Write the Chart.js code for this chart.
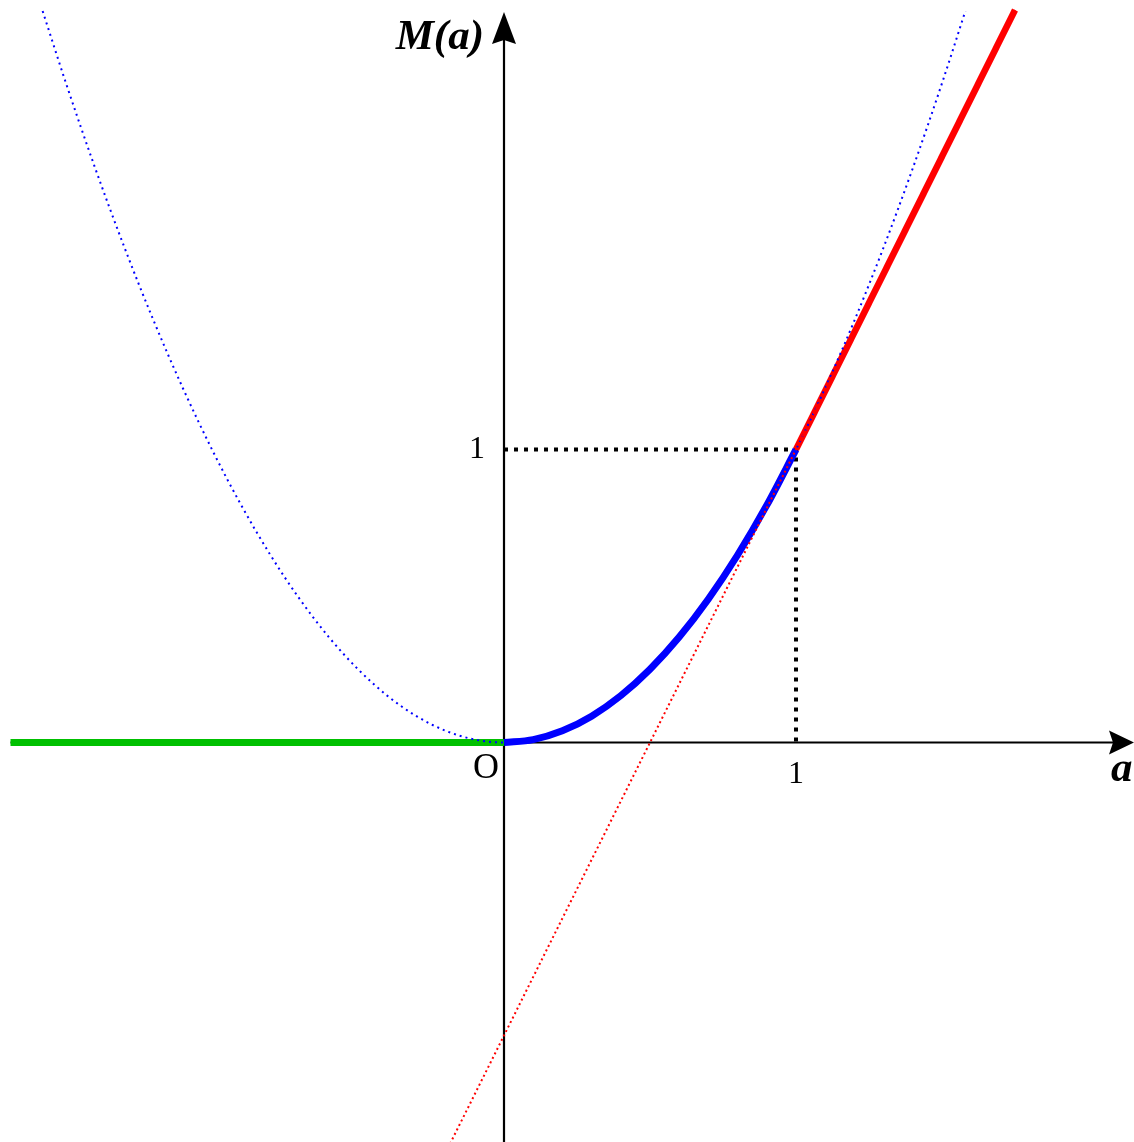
<!DOCTYPE html>
<html>
<head>
<meta charset="utf-8">
<script src="https://cdn.jsdelivr.net/npm/chart.js@4"></script>
<style>
  html, body { margin: 0; padding: 0; background: #ffffff; }
  canvas { display: block; }
</style>
</head>
<body>
<canvas id="chart" width="1134" height="1142"></canvas>
<script>
// M(a): 0 for a < 0, a^2 on [0, 1], 2a - 1 for a >= 1
const zeroA = [-1.69, 0];
const zeroM = [0, 0];
const squareA = [0, 0.1, 0.2, 0.3, 0.4, 0.5, 0.6, 0.7, 0.8, 0.9, 1];
const squareM = [0, 0.01, 0.04, 0.09, 0.16, 0.25, 0.36, 0.49, 0.64, 0.81, 1];
const lineA = [1, 1.75];
const lineM = [1, 2.5];

// the whole parabola a^2 and its tangent 2a - 1 at a = 1, drawn dotted
const parabolaA = [-1.58, -1.5, -1.4, -1.3, -1.2, -1.1, -1.0, -0.9, -0.8, -0.7, -0.6, -0.5, -0.4, -0.3, -0.2, -0.1,
  0, 0.1, 0.2, 0.3, 0.4, 0.5, 0.6, 0.7, 0.8, 0.9, 1.0, 1.1, 1.2, 1.3, 1.4, 1.5, 1.58];
const parabolaM = [2.4964, 2.25, 1.96, 1.69, 1.44, 1.21, 1.0, 0.81, 0.64, 0.49, 0.36, 0.25, 0.16, 0.09, 0.04, 0.01,
  0, 0.01, 0.04, 0.09, 0.16, 0.25, 0.36, 0.49, 0.64, 0.81, 1.0, 1.21, 1.44, 1.69, 1.96, 2.25, 2.4964];
const tangentA = [-0.2, 1.75];
const tangentM = [-1.4, 2.5];

// guide from (0,1) to (1,1) down to (1,0)
const guideA = [0, 1, 1];
const guideM = [1, 1, 0];

// tick labels
const xTickValues = [1];
const xTickLabels = ['1'];
const yTickValues = [1];
const yTickLabels = ['1'];

const pts = (xs, ys) => xs.map((x, i) => ({ x: x, y: ys[i] }));

const SERIF = '"Liberation Serif", "Times New Roman", serif';

// axes with arrowheads, drawn beneath the curves
const axesPlugin = {
  id: 'axes',
  beforeDatasetsDraw(chart) {
    const { ctx, scales: { x, y } } = chart;
    const x0 = x.getPixelForValue(0);
    const y0 = y.getPixelForValue(0);
    const left = x.getPixelForValue(-1.69);
    const right = x.getPixelForValue(x.max);
    const top = y.getPixelForValue(2.5) + 2;
    const bottom = y.getPixelForValue(y.min);
    ctx.save();
    ctx.strokeStyle = '#000';
    ctx.fillStyle = '#000';
    ctx.lineWidth = 2.2;
    ctx.beginPath();
    ctx.moveTo(left, y0);
    ctx.lineTo(right - 20, y0);
    ctx.moveTo(x0, bottom);
    ctx.lineTo(x0, top + 20);
    ctx.stroke();
    // arrowhead pointing right
    ctx.beginPath();
    ctx.moveTo(right, y0);
    ctx.lineTo(right - 25, y0 - 12);
    ctx.lineTo(right - 21, y0);
    ctx.lineTo(right - 25, y0 + 12);
    ctx.closePath();
    ctx.fill();
    // arrowhead pointing up
    ctx.beginPath();
    ctx.moveTo(x0, top);
    ctx.lineTo(x0 - 12, top + 32);
    ctx.lineTo(x0, top + 28);
    ctx.lineTo(x0 + 12, top + 32);
    ctx.closePath();
    ctx.fill();
    ctx.restore();
  },
  afterDatasetsDraw(chart) {
    const { ctx, scales: { x, y } } = chart;
    const x0 = x.getPixelForValue(0);
    const y0 = y.getPixelForValue(0);
    ctx.save();
    ctx.fillStyle = '#000';
    ctx.textBaseline = 'alphabetic';

    ctx.font = '32px ' + SERIF;
    ctx.textAlign = 'center';
    xTickValues.forEach((v, i) => {
      ctx.fillText(xTickLabels[i], x.getPixelForValue(v), y0 + 40);
    });
    ctx.textAlign = 'right';
    yTickValues.forEach((v, i) => {
      ctx.fillText(yTickLabels[i], x0 - 19, y.getPixelForValue(v) + 8);
    });

    ctx.font = '36px ' + SERIF;
    ctx.textAlign = 'right';
    ctx.fillText('O', x0 - 5, y0 + 35);

    ctx.font = 'italic bold 43px ' + SERIF;
    ctx.textAlign = 'right';
    ctx.fillText('M(a)', x0 - 20, 49);
    ctx.textAlign = 'left';
    ctx.fillText('a', 1111, y0 + 38);
    ctx.restore();
  }
};

function drawChart() {
  new Chart(document.getElementById('chart'), {
    type: 'scatter',
    data: {
      datasets: [
        {
          label: 'tangent 2a-1',
          data: pts(tangentA, tangentM),
          showLine: true,
          borderColor: '#ff0000',
          borderWidth: 2,
          borderDash: [2, 3],
          pointRadius: 0,
          tension: 0
        },
        {
          label: 'parabola a^2',
          data: pts(parabolaA, parabolaM),
          showLine: true,
          borderColor: '#0000ff',
          borderWidth: 2,
          borderDash: [2, 4],
          pointRadius: 0,
          cubicInterpolationMode: 'monotone'
        },
        {
          label: 'M(a) = a^2',
          data: pts(squareA, squareM),
          showLine: true,
          borderColor: '#0000ff',
          borderWidth: 7,
          pointRadius: 0,
          cubicInterpolationMode: 'monotone'
        },
        {
          label: 'M(a) = 2a-1',
          data: pts(lineA, lineM),
          showLine: true,
          borderColor: '#ff0000',
          borderWidth: 6.5,
          pointRadius: 0,
          tension: 0
        },
        {
          label: 'M(a) = 0',
          data: pts(zeroA, zeroM),
          showLine: true,
          borderColor: '#00c000',
          borderWidth: 7,
          pointRadius: 0,
          tension: 0
        },
        {
          label: 'guide',
          data: pts(guideA, guideM),
          showLine: true,
          borderColor: '#000000',
          borderWidth: 4,
          borderDash: [4, 6],
          borderJoinStyle: 'miter',
          pointRadius: 0,
          tension: 0
        }
      ]
    },
    options: {
      responsive: false,
      animation: false,
      events: [],
      layout: { padding: 0 },
      plugins: {
        legend: { display: false },
        tooltip: { enabled: false },
        title: { display: false }
      },
      scales: {
        x: { type: 'linear', display: false, min: -504 / 292, max: (1134 - 504) / 292 },
        y: { type: 'linear', display: false, min: 742.5 / 293 - 1142 / 293, max: 742.5 / 293 }
      }
    },
    plugins: [axesPlugin]
  });
}

Promise.all([
  document.fonts.load('32px "Liberation Serif"'),
  document.fonts.load('italic bold 43px "Liberation Serif"')
]).then(drawChart, drawChart);
</script>
</body>
</html>
